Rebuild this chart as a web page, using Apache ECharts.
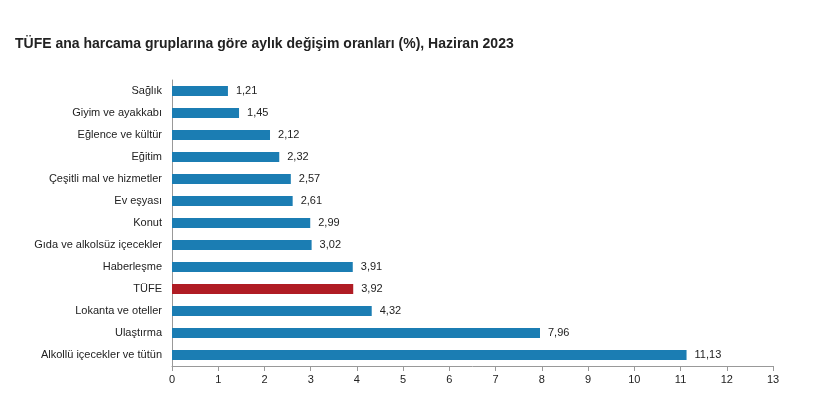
<!DOCTYPE html>
<html><head><meta charset="utf-8">
<script src="https://cdn.jsdelivr.net/npm/echarts@6/dist/echarts.min.js"></script>
<style>body{margin:0;background:#fff}#c{width:820px;height:411px}</style>
</head><body><div id="c"></div>
<script>
var categories = ['Sağlık','Giyim ve ayakkabı','Eğlence ve kültür','Eğitim','Çeşitli mal ve hizmetler','Ev eşyası','Konut','Gıda ve alkolsüz içecekler','Haberleşme','TÜFE','Lokanta ve oteller','Ulaştırma','Alkollü içecekler ve tütün'];
var values = [1.21,1.45,2.12,2.32,2.57,2.61,2.99,3.02,3.91,3.92,4.32,7.96,11.13];
var highlight = 'TÜFE';

var chart = echarts.init(document.getElementById('c'));
chart.setOption({
  animation: false,
  title: { text: 'TÜFE ana harcama gruplarına göre aylık değişim oranları (%), Haziran 2023', left: 10, top: 32,
    textStyle: { fontSize: 14, fontWeight: 'bold', color: '#222', fontFamily: 'Arial, Liberation Sans' } },
  grid: { left: 172, right: 47, top: 80, bottom: 45 },
  xAxis: { type: 'value', min: 0, max: 13, interval: 1,
    axisLine: { show: true, lineStyle: { color: '#999' } },
    axisTick: { show: true, lineStyle: { color: '#999' } },
    splitLine: { show: false },
    axisLabel: { color: '#222', fontSize: 11, fontFamily: 'Arial, Liberation Sans' } },
  yAxis: { type: 'category', inverse: true, data: categories,
    axisLine: { show: true, lineStyle: { color: '#999' } },
    axisTick: { show: false },
    axisLabel: { color: '#222', fontSize: 11, margin: 10, fontFamily: 'Arial, Liberation Sans' } },
  series: [{ type: 'bar', barWidth: 10,
    data: values.map(function (v, i) {
      return { value: v, itemStyle: { color: categories[i] === highlight ? '#b01c24' : '#1b7db3' } };
    }),
    label: { show: true, position: 'right', distance: 8, color: '#222', fontSize: 11,
      fontFamily: 'Arial, Liberation Sans',
      formatter: function (p) { return p.value.toFixed(2).replace('.', ','); } } }]
});
</script></body></html>
